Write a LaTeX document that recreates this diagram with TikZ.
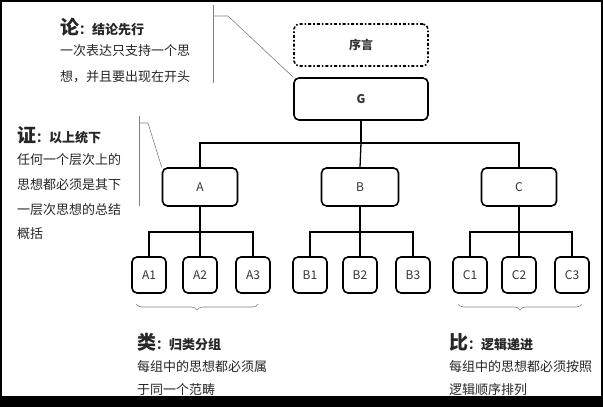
\documentclass[tikz,border=0pt]{standalone}
\usepackage{fontspec}
\setmainfont{Liberation Sans}
\newfontfamily\cjk{Noto Sans CJK SC}
\usetikzlibrary{decorations.pathreplacing}
\begin{document}
\begin{tikzpicture}[x=1pt,y=-1pt,
  box/.style={draw,line width=1.6pt,rounded corners=5pt,font=\cjk\fontsize{12}{14}\selectfont,text=black!80},
  lk/.style={line width=1.3pt},
  call/.style={draw=gray,line width=0.6pt},
  txt/.style={anchor=west,font=\cjk\fontsize{13}{15}\selectfont,inner sep=0,text=black!85},
  head/.style={anchor=west,font=\cjk\bfseries\fontsize{13}{15}\selectfont,inner sep=0,text=black!85}]
\useasboundingbox (0,0) rectangle (603,407);
\fill[white] (0,0) rectangle (603,407);
\draw[line width=1.2pt] (1,1) rectangle (602,397);
\fill[black] (0,397) rectangle (603,407);
\node[box,dash dot,minimum width=134pt,minimum height=42pt] (pre) at (361,45) {\textbf{序言}};
\node[box,minimum width=134pt,minimum height=42pt] (G) at (361,99) {\textbf{G}};
\node[box,minimum width=75pt,minimum height=38pt] (A) at (200,187) {A};
\node[box,minimum width=77pt,minimum height=38pt] (B) at (360,187) {B};
\node[box,minimum width=75pt,minimum height=38pt] (C) at (519,187) {C};
\foreach \n/\x in {A1/149,A2/200,A3/253,B1/310,B2/360,B3/413,C1/470,C2/519,C3/572}
  \node[box,minimum width=34pt,minimum height=36pt,inner sep=1pt] (\n) at (\x,275) {\n};
\draw[lk] (G.south) -- (361,143) coordinate (h);
\draw[lk] (A.north) |- (h) -| (C.north);
\draw[lk] (h) -- (B.north);
\foreach \p/\a/\b/\c in {A/A1/A2/A3,B/B1/B2/B3,C/C1/C2/C3}{
  \draw[lk] (\p.south) -- (\p.south |- 0,232) coordinate (m\p);
  \draw[lk] (\a.north) |- (m\p) -| (\c.north);
  \draw[lk] (m\p) -- (\b.north);}
\coordinate (l1) at (213,5); \coordinate (l2) at (213,83); \coordinate (l3) at (228,16);
\draw[call] (l1) -- (l2); \draw[call] (213,16) -- (l3) -- (G.north west);
\draw[call] (139,116) -- (139,206); \draw[call] (139,123) -- (148,123) -- (A.north west);
\draw[call,decorate,decoration={brace,amplitude=6pt,mirror}] (136,304) -- (258,304);
\draw[call,decorate,decoration={brace,amplitude=6pt,mirror}] (458,304) -- (582,304);
\node[head] at (60,27) {{\fontsize{19}{19}\selectfont 论}：结论先行};
\node[txt] at (60,51) {一次表达只支持一个思};
\node[txt] at (60,77) {想，并且要出现在开头};
\node[head] at (17,135) {{\fontsize{19}{19}\selectfont 证}：以上统下};
\node[txt] at (17,160) {任何一个层次上的};
\node[txt] at (17,185) {思想都必须是其下};
\node[txt] at (17,210) {一层次思想的总结};
\node[txt] at (17,234) {概括};
\node[head] at (137,342) {{\fontsize{19}{19}\selectfont 类}：归类分组};
\node[txt] at (137,367) {每组中的思想都必须属};
\node[txt] at (137,390) {于同一个范畴};
\node[head] at (449,342) {{\fontsize{19}{19}\selectfont 比}：逻辑递进};
\node[txt] at (449,367) {每组中的思想都必须按照};
\node[txt] at (449,390) {逻辑顺序排列};
\end{tikzpicture}
\end{document}
